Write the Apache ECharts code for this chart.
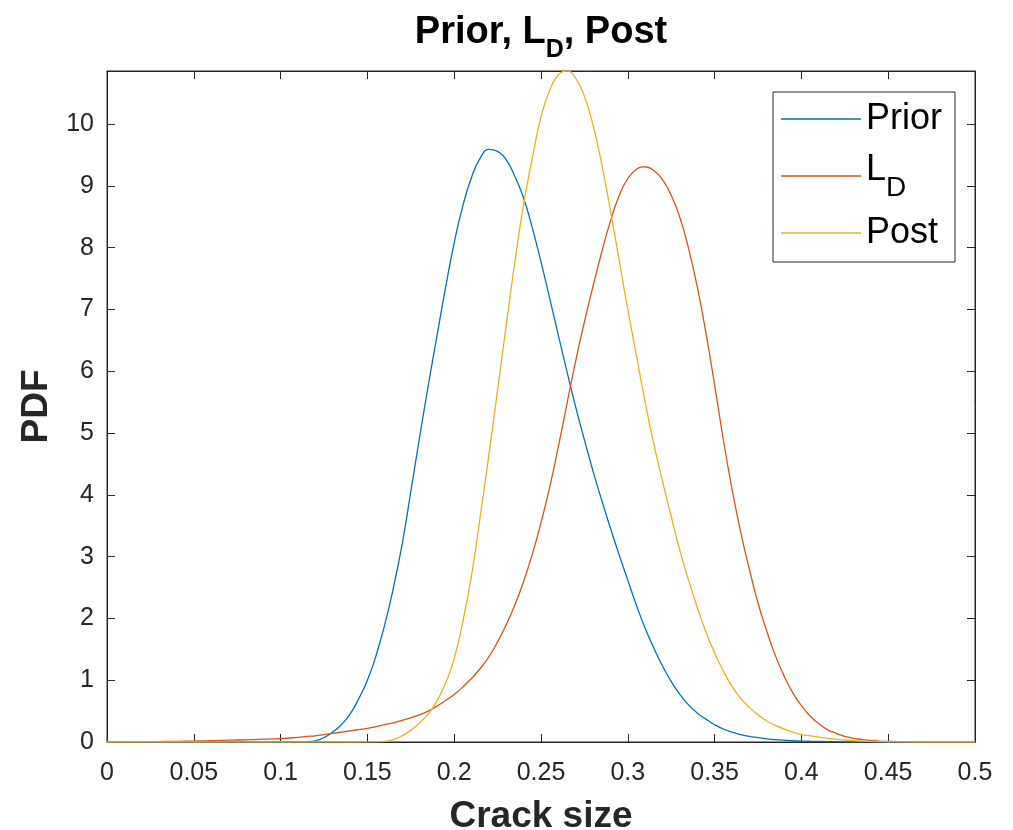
<!DOCTYPE html>
<html><head><meta charset="utf-8">
<script src="https://cdn.jsdelivr.net/npm/echarts@6/dist/echarts.min.js"></script>
<style>html,body{margin:0;padding:0;background:#fff}#c{width:1013px;height:830px}</style>
</head><body><div id="c"></div>
<script>
// ---- data ----
const crackSize = [0,0.005,0.01,0.015,0.02,0.025,0.03,0.035,0.04,0.045,0.05,0.055,0.06,0.065,0.07,0.075,0.08,0.085,0.09,0.095,
0.1,0.105,0.11,0.115,0.12,0.125,0.13,0.135,0.14,0.145,0.15,0.155,0.16,0.165,0.17,0.175,0.18,0.185,0.19,0.195,
0.2,0.205,0.21,0.215,0.22,0.225,0.23,0.235,0.24,0.245,0.25,0.255,0.26,0.265,0.27,0.275,0.28,0.285,0.29,0.295,
0.3,0.305,0.31,0.315,0.32,0.325,0.33,0.335,0.34,0.345,0.35,0.355,0.36,0.365,0.37,0.375,0.38,0.385,0.39,0.395,
0.4,0.405,0.41,0.415,0.42,0.425,0.43,0.435,0.44,0.445,0.45,0.455,0.46,0.465,0.47,0.475,0.48,0.485,0.49,0.495,0.5];
const prior = [0,0,0,0,0,0,0,0,0,0,0,0,0,0,0,0,0,0,0,0,
0,0,0.002,0.006,0.02,0.07,0.16,0.28,0.45,0.7,1.0,1.4,1.9,2.5,3.2,4.05,4.92,5.76,6.56,7.35,
8.08,8.68,9.14,9.45,9.59,9.56,9.42,9.15,8.8,8.32,7.77,7.18,6.58,5.99,5.42,4.89,4.38,3.91,3.46,3.03,
2.62,2.21,1.84,1.52,1.23,0.98,0.77,0.6,0.47,0.37,0.28,0.21,0.16,0.12,0.09,0.07,0.05,0.04,0.03,0.02,
0.015,0.012,0.01,0.007,0.005,0.003,0.002,0.001,0,0,0,0,0,0,0,0,0,0,0,0,0];
const likelihood = [0,0.001,0.002,0.003,0.005,0.006,0.007,0.009,0.01,0.012,0.015,0.017,0.02,0.025,0.03,0.032,0.035,0.04,0.045,0.05,
0.055,0.065,0.075,0.09,0.1,0.12,0.14,0.16,0.18,0.2,0.22,0.25,0.28,0.31,0.35,0.39,0.44,0.5,0.58,0.67,
0.77,0.89,1.03,1.19,1.38,1.62,1.9,2.22,2.6,3.04,3.55,4.12,4.78,5.48,6.17,6.8,7.38,7.93,8.43,8.84,
9.12,9.27,9.31,9.25,9.1,8.85,8.49,7.99,7.37,6.62,5.78,4.9,4.1,3.4,2.8,2.25,1.8,1.4,1.07,0.8,
0.59,0.42,0.3,0.2,0.14,0.09,0.06,0.04,0.025,0.015,0.01,0.006,0.004,0.002,0.001,0,0,0,0,0,0];
const posterior = [0,0,0,0,0,0,0,0,0,0,0,0,0,0,0,0,0,0,0,0,
0,0,0,0,0,0,0,0,0,0,0.001,0.004,0.01,0.04,0.1,0.19,0.31,0.45,0.66,0.95,
1.35,1.95,2.7,3.65,4.65,5.7,6.75,7.78,8.7,9.45,10.12,10.55,10.8,10.86,10.74,10.45,9.98,9.35,8.6,7.8,
7.0,6.25,5.5,4.82,4.22,3.65,3.1,2.62,2.18,1.78,1.44,1.15,0.9,0.71,0.56,0.44,0.34,0.27,0.21,0.16,
0.12,0.1,0.08,0.06,0.045,0.032,0.022,0.015,0.01,0.006,0.004,0.002,0.001,0,0,0,0,0,0,0,0];
const seriesNames = ['Prior', 'L_D', 'Post'];
const xRange = [0, 0.5, 0.05];
const yRange = [0, 10.86, 1];

// ---- styling ----
const FONT = "'Liberation Sans', Arial, Helvetica, sans-serif";
const colors = ['#0072BD', '#D95319', '#EDB120'];
const AX = '#262626';
const values = [prior, likelihood, posterior];

const chart = echarts.init(document.getElementById('c'), null, {renderer: 'canvas'});

function axisBase(range) {
  return {
    type: 'value', min: range[0], max: range[1], interval: range[2],
    axisLine: {show: true, onZero: false, lineStyle: {color: AX, width: 1}},
    axisTick: {show: true, inside: true, length: 8, lineStyle: {color: AX, width: 1}},
    splitLine: {show: false},
    minorTick: {show: false}
  };
}

const option = {
  animation: false,
  backgroundColor: '#fff',
  title: {
    text: '{a|Prior, L}{b|D}{a|, Post}',
    left: 541, top: 10, textAlign: 'center', padding: 0,
    textStyle: {
      rich: {
        a: {fontSize: 38, fontWeight: 'bold', lineHeight: 46, color: '#000', fontFamily: FONT},
        b: {fontSize: 25, fontWeight: 'bold', lineHeight: 25, padding: [34, 0, 0, 0], color: '#000', fontFamily: FONT}
      }
    }
  },
  grid: {left: 107, right: 38, top: 71, bottom: 88, containLabel: false, outerBoundsMode: 'none',
         show: true, borderColor: AX, borderWidth: 1, backgroundColor: 'transparent'},
  legend: {
    orient: 'vertical', left: 773, top: 92,
    data: seriesNames, selectedMode: false,
    icon: 'rect', itemWidth: 80, itemHeight: 1.5, itemGap: 13,
    padding: [9, 13, 11, 8],
    borderColor: AX, borderWidth: 1, backgroundColor: '#fff', borderRadius: 0,
    formatter: function (n) { return n === 'L_D' ? '{n|L}{s|D}' : '{m|' + n + '}'; },
    textStyle: {
      fontSize: 36, color: '#000', fontFamily: FONT,
      rich: {
        m: {fontSize: 36, lineHeight: 52, color: '#000', fontFamily: FONT},
        n: {fontSize: 36, lineHeight: 40, padding: [0, 0, 12, 0], color: '#000', fontFamily: FONT},
        s: {fontSize: 28, lineHeight: 28, padding: [24, 0, 0, 0], color: '#000', fontFamily: FONT}
      }
    }
  },
  xAxis: [
    Object.assign(axisBase(xRange), {
      position: 'bottom',
      axisLabel: {show: true, fontSize: 25, color: AX, margin: 19, fontFamily: FONT},
      name: 'Crack size', nameLocation: 'middle', nameGap: 56,
      nameTextStyle: {fontSize: 37, fontWeight: 'bold', color: AX, fontFamily: FONT}
    }),
    Object.assign(axisBase(xRange), {position: 'top', axisLabel: {show: false}})
  ],
  yAxis: [
    Object.assign(axisBase(yRange), {
      position: 'left',
      axisLabel: {show: true, fontSize: 25, color: AX, margin: 13, fontFamily: FONT, showMaxLabel: false},
      name: 'PDF', nameLocation: 'middle', nameGap: 46, nameRotate: 90,
      nameTextStyle: {fontSize: 37, fontWeight: 'bold', color: AX, fontFamily: FONT}
    }),
    Object.assign(axisBase(yRange), {position: 'right', axisLabel: {show: false}})
  ],
  series: seriesNames.map(function (name, k) {
    return {
      name: name, type: 'line', xAxisIndex: 0, yAxisIndex: 0,
      data: crackSize.map(function (x, i) { return [x, values[k][i]]; }),
      showSymbol: false, symbol: 'none',
      smooth: true,
      color: colors[k],
      itemStyle: {color: colors[k]},
      lineStyle: {color: colors[k], width: 1.3},
      clip: true
    };
  })
};
chart.setOption(option);
</script>
</body></html>
